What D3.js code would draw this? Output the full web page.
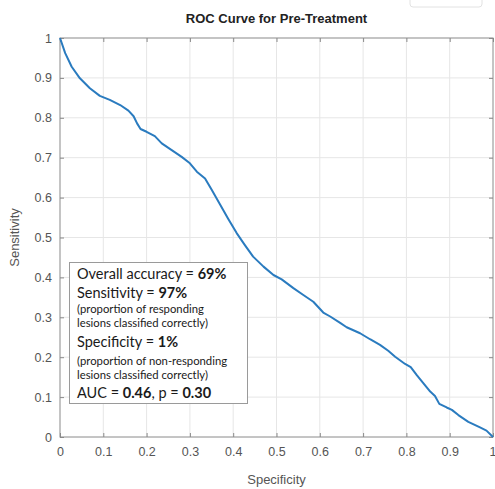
<!DOCTYPE html>
<html>
<head>
<meta charset="utf-8">
<script src="https://cdn.jsdelivr.net/npm/d3@7"></script>
<style>
  html, body { margin: 0; padding: 0; background: #fff; }
  svg { display: block; }
</style>
</head>
<body>
<div id="chart"></div>
<script>
// ROC curve points: specificity (x) and sensitivity (y)
const specificity = [0, 0.012, 0.027, 0.046, 0.069, 0.092, 0.115, 0.139, 0.158, 0.170, 0.178, 0.186, 0.200,
  0.219, 0.235, 0.258, 0.281, 0.300, 0.316, 0.335, 0.350, 0.370, 0.389, 0.408, 0.427, 0.446, 0.470,
  0.493, 0.512, 0.539, 0.562, 0.585, 0.608, 0.624, 0.647, 0.662, 0.693, 0.716, 0.739, 0.758, 0.774,
  0.797, 0.810, 0.824, 0.839, 0.855, 0.866, 0.876, 0.893, 0.905, 0.920, 0.943, 0.970, 0.985, 1.0];
const sensitivity = [1.0, 0.962, 0.928, 0.899, 0.874, 0.855, 0.845, 0.832, 0.818, 0.804, 0.786, 0.772, 0.765,
  0.754, 0.736, 0.719, 0.702, 0.686, 0.665, 0.648, 0.620, 0.582, 0.546, 0.511, 0.481, 0.452, 0.427,
  0.406, 0.395, 0.373, 0.356, 0.339, 0.312, 0.302, 0.286, 0.275, 0.260, 0.245, 0.231, 0.216, 0.201,
  0.183, 0.175, 0.155, 0.135, 0.114, 0.103, 0.083, 0.074, 0.068, 0.055, 0.038, 0.024, 0.016, 0.0];

const tickValues = [0, 0.1, 0.2, 0.3, 0.4, 0.5, 0.6, 0.7, 0.8, 0.9, 1];

// annotation lines: [text, bold?] pieces
const noteLines = [
  { size: 14.5, parts: [['Overall accuracy = ', false], ['69%', true]] },
  { size: 14.5, parts: [['Sensitivity = ', false], ['97%', true]] },
  { size: 11.3, parts: [['(proportion of responding', false]] },
  { size: 11.3, parts: [['lesions classified correctly)', false]] },
  { size: 14.5, parts: [['Specificity = ', false], ['1%', true]] },
  { size: 11.3, parts: [['(proportion of non-responding', false]] },
  { size: 11.3, parts: [['lesions classified correctly)', false]] },
  { size: 14.5, parts: [['AUC = ', false], ['0.46', true], [', p = ', false], ['0.30', true]] }
];
const noteBaselines = [279, 298, 313, 327, 347, 365, 379, 398];

const W = 495, H = 489;
const margin = { left: 60, right: 2, top: 38, bottom: 52 };

const svg = d3.select('#chart').append('svg')
  .attr('width', W)
  .attr('height', H);

const x = d3.scaleLinear().domain([0, 1]).range([margin.left, W - margin.right]);
const y = d3.scaleLinear().domain([0, 1]).range([H - margin.bottom, margin.top]);

// faint box cut off at the top right
svg.append('rect')
  .attr('x', 410).attr('y', -10)
  .attr('width', 72).attr('height', 17)
  .attr('rx', 3)
  .attr('fill', 'none')
  .attr('stroke', '#e2e2e2');

// grid
const grid = svg.append('g').attr('class', 'grid');
grid.selectAll('line.vx')
  .data(tickValues.slice(1, -1))
  .enter().append('line')
  .attr('x1', d => x(d)).attr('x2', d => x(d))
  .attr('y1', y(0)).attr('y2', y(1))
  .attr('stroke', '#e6e6e6').attr('stroke-width', 1);
grid.selectAll('line.hy')
  .data(tickValues.slice(1, -1))
  .enter().append('line')
  .attr('y1', d => y(d)).attr('y2', d => y(d))
  .attr('x1', x(0)).attr('x2', x(1))
  .attr('stroke', '#e6e6e6').attr('stroke-width', 1);

const fmt = d => d === 0 ? '0' : d === 1 ? '1' : d3.format('.1f')(d);
const axisColor = '#8a8a8a';

function styleAxis(g) {
  g.select('.domain').remove();
  g.selectAll('.tick line').attr('stroke', axisColor);
  g.selectAll('.tick text')
    .attr('fill', '#555')
    .style('font-family', 'Liberation Sans, Arial, sans-serif')
    .style('font-size', '12.5px');
}

const xAxisG = svg.append('g')
  .attr('transform', `translate(0,${y(0)})`)
  .call(d3.axisBottom(x).tickValues(tickValues).tickFormat(fmt).tickSizeInner(-4).tickSizeOuter(0).tickPadding(10))
  .call(styleAxis);
// keep the last label inside the window
xAxisG.selectAll('.tick text').filter(d => d === 1).attr('text-anchor', 'end').attr('dx', 3);

svg.append('g')
  .attr('transform', `translate(${x(0)},0)`)
  .call(d3.axisLeft(y).tickValues(tickValues).tickFormat(fmt).tickSizeInner(-4).tickSizeOuter(0).tickPadding(8))
  .call(styleAxis);

svg.append('g')
  .attr('transform', `translate(0,${y(1)})`)
  .call(d3.axisTop(x).tickValues(tickValues).tickFormat('').tickSizeInner(-4).tickSizeOuter(0))
  .call(styleAxis);

svg.append('g')
  .attr('transform', `translate(${x(1)},0)`)
  .call(d3.axisRight(y).tickValues(tickValues).tickFormat('').tickSizeInner(-4).tickSizeOuter(0))
  .call(styleAxis);

// box
svg.append('rect')
  .attr('x', x(0)).attr('y', y(1))
  .attr('width', x(1) - x(0)).attr('height', y(0) - y(1))
  .attr('fill', 'none')
  .attr('stroke', axisColor)
  .attr('stroke-width', 1);

// curve
const pts = specificity.map((s, i) => [s, sensitivity[i]]);
svg.append('path')
  .datum(pts)
  .attr('fill', 'none')
  .attr('stroke', '#2a7bbf')
  .attr('stroke-width', 2)
  .attr('stroke-linejoin', 'round')
  .attr('d', d3.line().x(d => x(d[0])).y(d => y(d[1])));

// title and axis labels
svg.append('text')
  .attr('x', (x(0) + x(1)) / 2).attr('y', 23)
  .attr('text-anchor', 'middle')
  .style('font-family', 'Liberation Sans, Arial, sans-serif')
  .style('font-size', '13px')
  .style('font-weight', 'bold')
  .attr('fill', '#222')
  .text('ROC Curve for Pre-Treatment');

svg.append('text')
  .attr('x', (x(0) + x(1)) / 2).attr('y', 484)
  .attr('text-anchor', 'middle')
  .style('font-family', 'Liberation Sans, Arial, sans-serif')
  .style('font-size', '13px')
  .attr('fill', '#555')
  .text('Specificity');

svg.append('text')
  .attr('transform', `translate(19,${(y(0) + y(1)) / 2}) rotate(-90)`)
  .attr('text-anchor', 'middle')
  .style('font-family', 'Liberation Sans, Arial, sans-serif')
  .style('font-size', '13px')
  .attr('fill', '#555')
  .text('Sensitivity');

// annotation box
svg.append('rect')
  .attr('x', 69.5).attr('y', 262.5)
  .attr('width', 178).attr('height', 141)
  .attr('fill', '#fff')
  .attr('stroke', '#9a9a9a')
  .attr('stroke-width', 1);

const note = svg.append('g')
  .style('font-family', 'Lato, "Open Sans", sans-serif')
  .attr('fill', '#1a1a1a');

noteLines.forEach((line, i) => {
  const t = note.append('text')
    .attr('x', 77)
    .attr('y', noteBaselines[i])
    .style('font-size', line.size + 'px');
  line.parts.forEach(p => {
    t.append('tspan')
      .style('font-weight', p[1] ? 'bold' : 'normal')
      .text(p[0]);
  });
});
</script>
</body>
</html>
